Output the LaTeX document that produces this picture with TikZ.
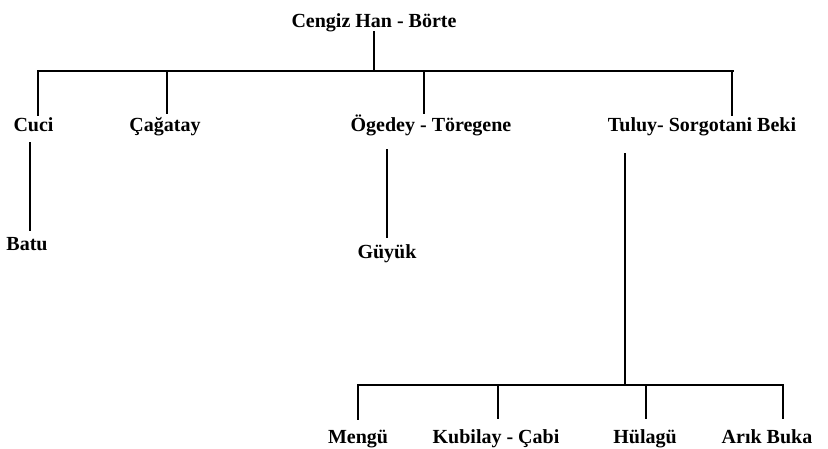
\documentclass[tikz,border=0pt]{standalone}
\usepackage{fontspec}
\setmainfont{Liberation Serif}
\begin{document}
\begin{tikzpicture}[x=1pt,y=-1pt,
  lbl/.style={font=\fontsize{20}{24}\selectfont\bfseries, inner sep=0pt, anchor=base},
  ln/.style={line width=1.4pt, line cap=rect}]
\useasboundingbox (0,0) rectangle (828,448);
% names
\node[lbl] (cengiz) at (374,27) {Cengiz Han - Börte};
\node[lbl] (cuci) at (33.5,131) {Cuci};
\node[lbl] (cagatay) at (165,131) {Çağatay};
\node[lbl] (ogedey) at (431,131) {Ögedey - Töregene};
\node[lbl] (tuluy) at (702,131) {Tuluy- Sorgotani Beki};
\node[lbl] (batu) at (27,250) {Batu};
\node[lbl] (guyuk) at (387,258) {Güyük};
\node[lbl] (mengu) at (358,443) {Mengü};
\node[lbl] (kubilay) at (496,443) {Kubilay - Çabi};
\node[lbl] (hulagu) at (645,443) {Hülagü};
\node[lbl] (arik) at (767,443) {Arık Buka};
% junction points
\coordinate (topdrop) at (374,32);
\coordinate (barA) at (374,71);
\coordinate (barL) at (38,71);
\coordinate (barR) at (733,71);
\coordinate (c1) at (38,115);
\coordinate (c2t) at (167,71);   \coordinate (c2) at (167,113);
\coordinate (c3t) at (424,71);   \coordinate (c3) at (424,113);
\coordinate (c4t) at (732,71);   \coordinate (c4) at (732,115);
\coordinate (b1t) at (30,143);   \coordinate (b1) at (30,230);
\coordinate (g1t) at (387,150);  \coordinate (g1) at (387,237);
\coordinate (t1t) at (625,154);  \coordinate (t1) at (625,385);
\coordinate (bbL) at (358,385);  \coordinate (bbR) at (783,385);
\coordinate (m1) at (358,419);
\coordinate (k1t) at (498,385);  \coordinate (k1) at (498,418);
\coordinate (h1t) at (646,385);  \coordinate (h1) at (646,418);
\coordinate (a1) at (783,418);
% connectors
\draw[ln] (topdrop) -- (barA);
\draw[ln] (barL) -- (barR);
\draw[ln] (barL) -- (c1);
\draw[ln] (c2t) -- (c2);
\draw[ln] (c3t) -- (c3);
\draw[ln] (c4t) -- (c4);
\draw[ln] (b1t) -- (b1);
\draw[ln] (g1t) -- (g1);
\draw[ln] (t1t) -- (t1);
\draw[ln] (bbL) -- (bbR);
\draw[ln] (bbL) -- (m1);
\draw[ln] (k1t) -- (k1);
\draw[ln] (h1t) -- (h1);
\draw[ln] (bbR) -- (a1);
\end{tikzpicture}
\end{document}
